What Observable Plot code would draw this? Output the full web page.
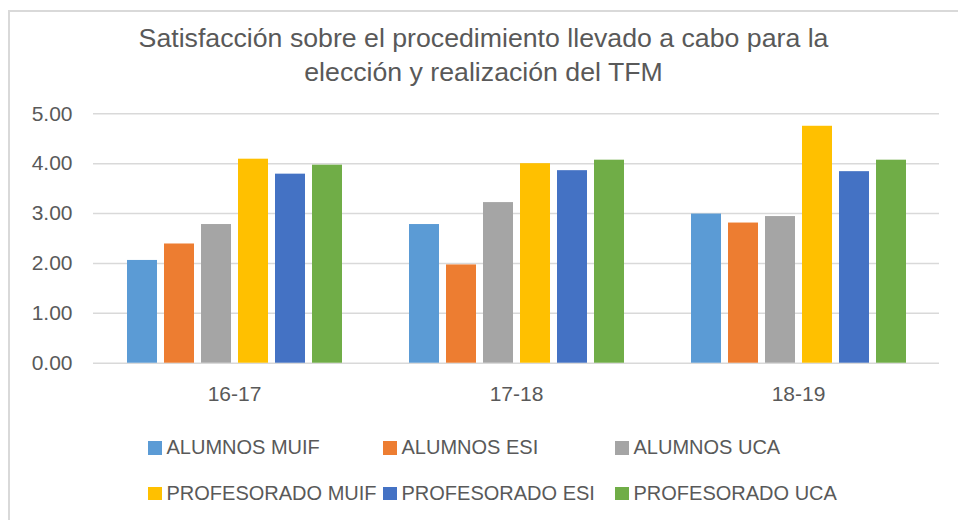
<!DOCTYPE html>
<html>
<head>
<meta charset="utf-8">
<script src="https://cdn.jsdelivr.net/npm/d3@7"></script>
<script src="https://cdn.jsdelivr.net/npm/@observablehq/plot@0.6"></script>
<style>
  html, body { margin: 0; padding: 0; background: #fff; }
  body { width: 958px; height: 520px; overflow: hidden; position: relative; font-family: "Liberation Sans", Arial, sans-serif; color: #595959; }
  #frame { position: absolute; left: 8px; top: 10px; width: 980px; height: 540px; border: 2px solid #d9d9d9; box-sizing: border-box; }
  #title { position: absolute; left: 8px; width: 951px; top: 21px; text-align: center; font-size: 26.7px; line-height: 34px; color: #595959; }
  #chart { position: absolute; left: 0; top: 95px; }
  #legend { position: absolute; left: 148px; top: 425px; display: grid; grid-template-columns: 235px 232px auto; grid-auto-rows: 45.5px; font-size: 20px; color: #595959; }
  .item { display: flex; align-items: center; white-space: nowrap; }
  .sw { width: 13.5px; height: 13.5px; margin-right: 5px; flex: none; }
</style>
</head>
<body>
<div id="frame"></div>
<div id="title">Satisfacción sobre el procedimiento llevado a cabo para la<br>elección y realización del TFM</div>
<div id="chart"></div>
<div id="legend"></div>
<script>
const years = ["16-17", "17-18", "18-19"];
const series = ["ALUMNOS MUIF", "ALUMNOS ESI", "ALUMNOS UCA", "PROFESORADO MUIF", "PROFESORADO ESI", "PROFESORADO UCA"];
const colors = ["#5B9BD5", "#ED7D31", "#A5A5A5", "#FFC000", "#4472C4", "#70AD47"];
const alumnosMuif = [2.06, 2.78, 2.99];
const alumnosEsi = [2.39, 1.97, 2.81];
const alumnosUca = [2.78, 3.22, 2.94];
const profesoradoMuif = [4.09, 4.00, 4.75];
const profesoradoEsi = [3.79, 3.86, 3.84];
const profesoradoUca = [3.97, 4.07, 4.07];
const yTicks = [0, 1, 2, 3, 4, 5];

const values = [alumnosMuif, alumnosEsi, alumnosUca, profesoradoMuif, profesoradoEsi, profesoradoUca];
const rows = years.flatMap((yr, i) => series.map((s, j) => ({year: yr, series: s, value: values[j][i]})));

const chart = Plot.plot({
  width: 958,
  height: 320,
  marginTop: 18.3,
  marginBottom: 52.3,
  marginLeft: 92,
  marginRight: 17.3,
  style: {fontFamily: '"Liberation Sans", Arial, sans-serif', fontSize: "21px", color: "#595959", background: "transparent", overflow: "visible"},
  fx: {domain: years, padding: 0, label: null, tickSize: 0, tickPadding: 23},
  x: {domain: series, axis: null, paddingInner: 0.2, paddingOuter: 0.85},
  y: {domain: [0, 5], ticks: yTicks, tickFormat: d => d.toFixed(2), label: null, tickSize: 0, tickPadding: 21},
  color: {domain: series, range: colors},
  marks: [
    Plot.gridY(yTicks, {stroke: "#d9d9d9", strokeOpacity: 1, strokeWidth: 1.5}),
    Plot.barY(rows, {fx: "year", x: "series", y: "value", fill: "series"})
  ]
});
document.getElementById("chart").appendChild(chart);

const legend = document.getElementById("legend");
series.forEach((s, i) => {
  const it = document.createElement("div");
  it.className = "item";
  const sw = document.createElement("span");
  sw.className = "sw";
  sw.style.background = colors[i];
  it.appendChild(sw);
  it.appendChild(document.createTextNode(s));
  legend.appendChild(it);
});
</script>
</body>
</html>
